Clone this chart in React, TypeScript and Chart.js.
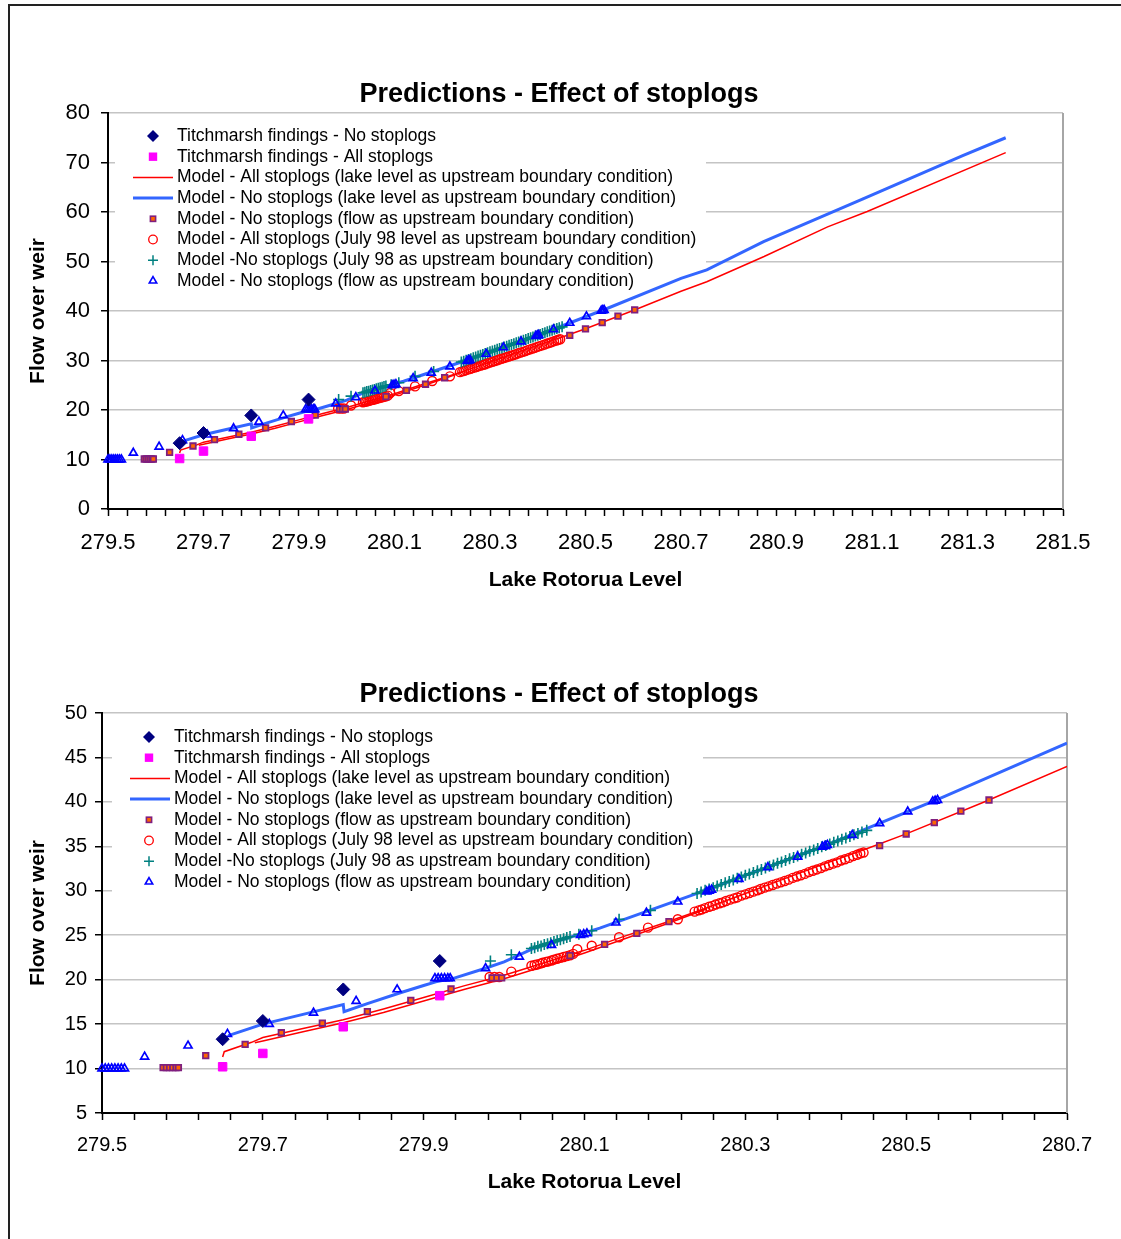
import React, { useEffect, useRef } from "react";
import { Chart, registerables } from "chart.js";

Chart.register(...registerables);

const FONT = "'Liberation Sans', Arial, Helvetica, sans-serif";
Chart.defaults.font.family = FONT;
Chart.defaults.color = "#000";

// ---------- text ----------
const chartTitle = "Predictions - Effect of stoplogs";
const xAxisTitle = "Lake Rotorua Level";
const yAxisTitle = "Flow over weir";
const seriesLabels = [
  "Titchmarsh findings - No stoplogs",
  "Titchmarsh findings - All stoplogs",
  "Model - All stoplogs (lake level as upstream boundary condition)",
  "Model - No stoplogs (lake level as upstream boundary condition)",
  "Model - No stoplogs (flow as upstream boundary condition)",
  "Model - All stoplogs (July 98 level as upstream boundary condition)",
  "Model -No stoplogs (July 98 as upstream boundary condition)",
  "Model - No stoplogs (flow as upstream boundary condition)",
];

// ---------- axis ticks ----------
const topYTicks = [0, 10, 20, 30, 40, 50, 60, 70, 80];
const bottomYTicks = [5, 10, 15, 20, 25, 30, 35, 40, 45, 50];
const topXRange = [279.5, 281.5];
const bottomXRange = [279.5, 280.7];
const xMinorStep = 0.04;
const xLabelStep = 0.2;

// ---------- data ----------
// Titchmarsh findings - No stoplogs
const titchNoX = [279.65, 279.7, 279.8, 279.92];
const titchNoY = [13.3, 15.35, 18.9, 22.1];
// Titchmarsh findings - All stoplogs
const titchAllX = [279.65, 279.7, 279.8, 279.92];
const titchAllY = [10.2, 11.7, 14.7, 18.2];

// Model - All stoplogs (lake level) : red line (two close passes)
const redLineAX = [279.65, 279.652, 279.686, 279.7, 279.75, 279.8, 279.85, 279.9, 279.95, 280.0, 280.05, 280.1, 280.15, 280.2, 280.25, 280.3, 280.35, 280.4, 280.45, 280.5, 280.6, 280.7, 280.754, 280.874, 281.007, 281.09, 281.38];
const redLineAY = [11.3, 11.9, 12.95, 13.5, 14.5, 15.5, 16.7, 18.0, 19.3, 20.5, 21.9, 23.3, 24.9, 26.4, 28.0, 29.7, 31.4, 33.1, 34.7, 36.4, 40.1, 44.0, 45.9, 51.0, 57.0, 60.1, 72.0];
const redLineBX = [279.69, 279.7, 279.75, 279.8, 279.85, 279.9, 279.95, 280.0, 280.05, 280.1, 280.15, 280.2, 280.25];
const redLineBY = [12.9, 13.1, 14.15, 15.15, 16.3, 17.6, 18.9, 20.1, 21.5, 23.0, 24.6, 26.2, 27.9];

// Model - No stoplogs (lake level) : blue line
const blueLineX = [279.657, 279.7, 279.75, 279.8, 279.801, 279.83, 279.87, 279.9, 279.915, 279.937, 279.974, 280.0, 280.036, 280.119, 280.24, 280.4, 280.54, 280.7, 280.754, 280.873, 281.08, 281.29, 281.38];
const blueLineY = [13.7, 15.0, 16.1, 17.2, 16.4, 17.3, 18.5, 19.35, 19.75, 20.15, 21.2, 22.0, 23.5, 25.8, 29.7, 35.1, 40.3, 46.6, 48.3, 54.0, 62.6, 71.4, 75.0];

// Model - No stoplogs (flow as upstream) : purple/orange squares
const flowSqX = [279.576, 279.58, 279.584, 279.588, 279.592, 279.595, 279.629, 279.678, 279.723, 279.774, 279.83, 279.884, 279.934, 279.985, 279.991, 279.997, 280.082, 280.125, 280.165, 280.205, 280.467, 280.5, 280.535, 280.568, 280.603];
const flowSqY = [10.1, 10.1, 10.1, 10.1, 10.1, 10.1, 11.45, 12.73, 14.03, 15.1, 16.4, 17.68, 18.95, 20.2, 20.2, 20.2, 22.7, 23.98, 25.2, 26.52, 35.07, 36.39, 37.66, 38.97, 40.21];

// Model - All stoplogs (July 98 level) : red circles
const julyAllX = [279.982, 279.988, 279.994, 280.009, 280.034, 280.038, 280.041, 280.045, 280.048, 280.052, 280.055, 280.059, 280.062, 280.066, 280.07, 280.074, 280.078, 280.082, 280.086, 280.091, 280.109, 280.143, 280.179, 280.216, 280.237, 280.242, 280.246, 280.25, 280.255, 280.259, 280.263, 280.268, 280.272, 280.276, 280.281, 280.286, 280.29, 280.295, 280.3, 280.305, 280.31, 280.315, 280.319, 280.324, 280.329, 280.334, 280.339, 280.344, 280.349, 280.354, 280.359, 280.364, 280.369, 280.374, 280.379, 280.384, 280.389, 280.394, 280.399, 280.404, 280.409, 280.414, 280.419, 280.424, 280.429, 280.434, 280.439, 280.443, 280.447];
const julyAllY = [20.3, 20.3, 20.3, 20.9, 21.57, 21.65, 21.7, 21.8, 21.9, 22.0, 22.05, 22.15, 22.25, 22.35, 22.45, 22.55, 22.65, 22.75, 22.9, 23.42, 23.82, 24.77, 25.85, 26.8, 27.65, 27.8, 27.9, 28.05, 28.2, 28.3, 28.45, 28.6, 28.7, 28.85, 29.0, 29.15, 29.25, 29.45, 29.6, 29.75, 29.9, 30.05, 30.2, 30.35, 30.5, 30.65, 30.8, 30.95, 31.1, 31.25, 31.45, 31.6, 31.75, 31.9, 32.1, 32.25, 32.4, 32.55, 32.75, 32.9, 33.05, 33.2, 33.4, 33.55, 33.7, 33.9, 34.05, 34.2, 34.3];

// Model - No stoplogs (July 98) : teal crosses
const julyNoX = [279.983, 280.009, 280.034, 280.038, 280.042, 280.046, 280.05, 280.054, 280.058, 280.062, 280.066, 280.07, 280.074, 280.078, 280.082, 280.093, 280.109, 280.143, 280.182, 280.24, 280.245, 280.25, 280.255, 280.26, 280.265, 280.27, 280.275, 280.28, 280.285, 280.29, 280.295, 280.3, 280.305, 280.31, 280.315, 280.32, 280.325, 280.33, 280.335, 280.34, 280.345, 280.35, 280.355, 280.36, 280.365, 280.37, 280.375, 280.38, 280.385, 280.39, 280.395, 280.4, 280.405, 280.41, 280.415, 280.42, 280.425, 280.43, 280.435, 280.44, 280.445, 280.451];
const julyNoY = [22.1, 22.8, 23.5, 23.6, 23.75, 23.8, 23.95, 24.05, 24.15, 24.3, 24.4, 24.5, 24.6, 24.75, 24.85, 25.1, 25.5, 26.8, 27.8, 29.7, 29.85, 30.05, 30.2, 30.35, 30.55, 30.7, 30.9, 31.05, 31.2, 31.4, 31.55, 31.75, 31.9, 32.05, 32.25, 32.4, 32.55, 32.75, 32.9, 33.1, 33.25, 33.4, 33.6, 33.75, 33.9, 34.1, 34.25, 34.45, 34.6, 34.75, 34.95, 35.1, 35.25, 35.45, 35.6, 35.8, 35.95, 36.1, 36.3, 36.45, 36.6, 36.8];

// Model - No stoplogs (flow as upstream) : blue triangles
const flowTriX = [279.5, 279.504, 279.508, 279.512, 279.516, 279.52, 279.524, 279.528, 279.553, 279.607, 279.656, 279.708, 279.763, 279.816, 279.867, 279.914, 279.918, 279.922, 279.926, 279.93, 279.933, 279.977, 280.019, 280.059, 280.095, 280.099, 280.103, 280.139, 280.177, 280.216, 280.252, 280.255, 280.258, 280.292, 280.328, 280.365, 280.396, 280.399, 280.402, 280.433, 280.467, 280.502, 280.533, 280.536, 280.539];
const flowTriY = [10, 10, 10, 10, 10, 10, 10, 10, 11.33, 12.57, 13.89, 15.01, 16.28, 17.6, 18.9, 20.15, 20.15, 20.15, 20.15, 20.15, 20.15, 21.28, 22.58, 23.9, 25.0, 25.1, 25.2, 26.41, 27.53, 28.77, 29.9, 30.0, 30.1, 31.32, 32.64, 33.83, 34.95, 35.04, 35.15, 36.27, 37.59, 38.9, 40.05, 40.13, 40.2];

// ---------- colours ----------
const NAVY = "#000080";
const MAGENTA = "#FF00FF";
const RED = "#FF0000";
const BLUE_LINE = "#3366FF";
const PURPLE = "#7F1F7F";
const ORANGE = "#FF6600";
const TEAL = "#008080";
const BLUE = "#0000FF";

const pts = (xs: number[], ys: number[]) => xs.map((x, i) => ({ x, y: ys[i] }));

const legendKinds = ["diamond", "magenta", "redLine", "blueLine", "flowSq", "circle", "cross", "triangle"];

function drawSymbol(ctx: CanvasRenderingContext2D, kind: string, mx: number, lx1: number, lx2: number, y: number) {
  ctx.save();
  ctx.beginPath();
  if (kind === "diamond") {
    const r = 6;
    ctx.moveTo(mx - r, y); ctx.lineTo(mx, y - r); ctx.lineTo(mx + r, y); ctx.lineTo(mx, y + r); ctx.closePath();
    ctx.fillStyle = NAVY; ctx.fill();
  } else if (kind === "magenta") {
    const s = 4.2;
    ctx.fillStyle = MAGENTA; ctx.fillRect(mx - s, y - s, 2 * s, 2 * s);
  } else if (kind === "redLine") {
    ctx.strokeStyle = RED; ctx.lineWidth = 1.5; ctx.moveTo(lx1, y); ctx.lineTo(lx2, y); ctx.stroke();
  } else if (kind === "blueLine") {
    ctx.strokeStyle = BLUE_LINE; ctx.lineWidth = 3; ctx.moveTo(lx1, y); ctx.lineTo(lx2, y); ctx.stroke();
  } else if (kind === "flowSq") {
    const s = 2.6;
    ctx.fillStyle = ORANGE; ctx.fillRect(mx - s, y - s, 2 * s, 2 * s);
    ctx.strokeStyle = PURPLE; ctx.lineWidth = 1.6; ctx.strokeRect(mx - s, y - s, 2 * s, 2 * s);
  } else if (kind === "circle") {
    ctx.arc(mx, y, 4.3, 0, Math.PI * 2);
    ctx.strokeStyle = RED; ctx.lineWidth = 1.3; ctx.stroke();
  } else if (kind === "cross") {
    const r = 5;
    ctx.moveTo(mx - r, y); ctx.lineTo(mx + r, y); ctx.moveTo(mx, y - r); ctx.lineTo(mx, y + r);
    ctx.strokeStyle = TEAL; ctx.lineWidth = 1.5; ctx.stroke();
  } else if (kind === "triangle") {
    const r = 4.3;
    ctx.moveTo(mx, y - r);
    ctx.lineTo(mx + r * Math.sin((2 * Math.PI) / 3), y - r * Math.cos((2 * Math.PI) / 3));
    ctx.lineTo(mx - r * Math.sin((2 * Math.PI) / 3), y - r * Math.cos((2 * Math.PI) / 3));
    ctx.closePath();
    ctx.strokeStyle = BLUE; ctx.lineWidth = 1.6; ctx.stroke();
  }
  ctx.restore();
}

const decorPlugin = {
  id: "decor",
  beforeDatasetsDraw(chart: any, _args: any, opts: any) {
    const ctx: CanvasRenderingContext2D = chart.ctx;
    const a = chart.chartArea;
    ctx.save();
    ctx.strokeStyle = "#a6a6a6";
    ctx.lineWidth = 2;
    ctx.beginPath();
    ctx.moveTo(a.right, a.top);
    ctx.lineTo(a.right, a.bottom);
    ctx.stroke();
    const L = opts.legend;
    ctx.fillStyle = "#fff";
    ctx.fillRect(L.x1, L.y1, L.x2 - L.x1, L.y2 - L.y1);
    ctx.font = `17.5px ${FONT}`;
    ctx.textBaseline = "middle";
    ctx.textAlign = "left";
    seriesLabels.forEach((label, i) => {
      const y = L.y0 + i * L.dy;
      drawSymbol(ctx, legendKinds[i], L.mx, L.lx1, L.lx2, y);
      ctx.fillStyle = "#000";
      ctx.fillText(label, L.tx, y);
    });
    ctx.restore();
  },
  afterDraw(chart: any, _args: any, opts: any) {
    const ctx: CanvasRenderingContext2D = chart.ctx;
    ctx.save();
    ctx.font = `bold 27px ${FONT}`;
    ctx.fillStyle = "#000";
    ctx.textAlign = "center";
    ctx.textBaseline = "middle";
    ctx.fillText(chartTitle, opts.titleX, opts.titleY);
    ctx.restore();
  },
};

type PanelCfg = {
  left: number; top: number; w: number; h: number;
  xRange: number[]; yTicks: number[];
  areaLeft: number; areaRight: number; areaTop: number; areaBottom: number;
  tickFont: number; xTickPad: number; yTickPad: number;
  xTitlePad: number; yTitlePad: number;
  titleX: number; titleY: number;
  legend: any;
};

function Panel({ cfg }: { cfg: PanelCfg }) {
  const ref = useRef<HTMLCanvasElement>(null);
  useEffect(() => {
    if (!ref.current) return;
    const [xmin, xmax] = cfg.xRange;
    const n = Math.round((xmax - xmin) / xMinorStep);
    const xTickValues = Array.from({ length: n + 1 }, (_, i) => +(xmin + i * xMinorStep).toFixed(3));
    const markerBase = { showLine: false, clip: false as any };
    const chart = new Chart(ref.current, {
      type: "scatter",
      data: {
        datasets: [
          { ...markerBase, label: seriesLabels[0], data: pts(titchNoX, titchNoY), pointStyle: "rectRot", pointRadius: 6.5, pointBackgroundColor: NAVY, pointBorderColor: NAVY, pointBorderWidth: 1, backgroundColor: NAVY, borderColor: NAVY },
          { ...markerBase, label: seriesLabels[1], data: pts(titchAllX, titchAllY), pointStyle: "rect", pointRadius: 6, pointBackgroundColor: MAGENTA, pointBorderColor: MAGENTA, pointBorderWidth: 1, backgroundColor: MAGENTA, borderColor: MAGENTA },
          { ...markerBase, label: seriesLabels[7], data: pts(flowTriX, flowTriY), pointStyle: "triangle", pointRadius: 4.6, pointBackgroundColor: "rgba(0,0,0,0)", pointBorderColor: BLUE, pointBorderWidth: 1.7, backgroundColor: "rgba(0,0,0,0)", borderColor: BLUE },
          { ...markerBase, label: seriesLabels[6], data: pts(julyNoX, julyNoY), pointStyle: "cross", pointRadius: 5.5, pointBorderColor: TEAL, pointBorderWidth: 1.6, borderColor: TEAL, backgroundColor: TEAL },
          { ...markerBase, label: seriesLabels[4], data: pts(flowSqX, flowSqY), pointStyle: "rect", pointRadius: 3.9, pointBackgroundColor: ORANGE, pointBorderColor: PURPLE, pointBorderWidth: 1.8, backgroundColor: ORANGE, borderColor: PURPLE },
          { ...markerBase, label: seriesLabels[5], data: pts(julyAllX, julyAllY), pointStyle: "circle", pointRadius: 4.5, pointBackgroundColor: "rgba(0,0,0,0)", pointBorderColor: RED, pointBorderWidth: 1.4, backgroundColor: "rgba(0,0,0,0)", borderColor: RED },
          { label: seriesLabels[3], data: pts(blueLineX, blueLineY), showLine: true, borderColor: BLUE_LINE, borderWidth: 3, pointRadius: 0, pointHoverRadius: 0, tension: 0, fill: false },
          { label: seriesLabels[2], data: pts(redLineAX, redLineAY), showLine: true, borderColor: RED, borderWidth: 1.5, pointRadius: 0, pointHoverRadius: 0, tension: 0, fill: false },
          { label: seriesLabels[2], data: pts(redLineBX, redLineBY), showLine: true, borderColor: RED, borderWidth: 1.5, pointRadius: 0, pointHoverRadius: 0, tension: 0, fill: false },
        ] as any,
      },
      options: {
        responsive: false,
        animation: false,
        devicePixelRatio: 1,
        events: [],
        layout: {
          padding: { left: 0, top: cfg.areaTop, right: cfg.w - cfg.areaRight, bottom: 0 },
        },
        plugins: {
          legend: { display: false },
          tooltip: { enabled: false },
          title: { display: false },
          decor: { legend: cfg.legend, titleX: cfg.titleX, titleY: cfg.titleY },
        } as any,
        scales: {
          x: {
            type: "linear",
            min: xmin,
            max: xmax,
            afterBuildTicks: (s: any) => { s.ticks = xTickValues.map((v) => ({ value: v })); },
            afterFit: (s: any) => { s.height = cfg.h - cfg.areaBottom; },
            ticks: {
              autoSkip: false,
              maxRotation: 0,
              minRotation: 0,
              color: "#000",
              font: { size: cfg.tickFont },
              padding: cfg.xTickPad,
              callback: (v: any) => {
                const k = (Number(v) - xmin) / xLabelStep;
                return Math.abs(k - Math.round(k)) < 1e-6 ? Number(v).toFixed(1) : "";
              },
            },
            grid: { drawOnChartArea: false, drawTicks: true, tickLength: 7, tickColor: "#000", tickWidth: 1.5 },
            border: { display: true, color: "#000", width: 2 },
            title: { display: true, text: xAxisTitle, color: "#000", font: { size: 21, weight: "bold" }, padding: { top: 0, bottom: cfg.xTitlePad } },
          },
          y: {
            type: "linear",
            min: cfg.yTicks[0],
            max: cfg.yTicks[cfg.yTicks.length - 1],
            afterBuildTicks: (s: any) => { s.ticks = cfg.yTicks.map((v) => ({ value: v })); },
            afterFit: (s: any) => { s.width = cfg.areaLeft; },
            ticks: { color: "#000", font: { size: cfg.tickFont }, padding: cfg.yTickPad },
            grid: { color: "#c4c4c4", lineWidth: 1.5, drawTicks: true, tickLength: 7, tickColor: "#000", tickWidth: 1.5 },
            border: { display: true, color: "#000", width: 2 },
            title: { display: true, text: yAxisTitle, color: "#000", font: { size: 21, weight: "bold" }, padding: { top: cfg.yTitlePad, bottom: 0 } },
          },
        },
      } as any,
      plugins: [decorPlugin as any],
    });
    return () => chart.destroy();
  }, []);
  return (
    <canvas
      ref={ref}
      width={cfg.w}
      height={cfg.h}
      style={{ position: "absolute", left: cfg.left, top: cfg.top, width: cfg.w, height: cfg.h }}
    />
  );
}

const topCfg: PanelCfg = {
  left: 10, top: 60, w: 1110, h: 545,
  xRange: topXRange, yTicks: topYTicks,
  areaLeft: 98, areaRight: 1053, areaTop: 53, areaBottom: 449,
  tickFont: 22, xTickPad: 14, yTickPad: 11,
  xTitlePad: 12.4, yTitlePad: 15.4,
  titleX: 549, titleY: 34.5,
  legend: { x1: 105, y1: 63, x2: 696, y2: 232, mx: 143, lx1: 123, lx2: 163, tx: 167, y0: 76, dy: 20.7 },
};

const bottomCfg: PanelCfg = {
  left: 10, top: 655, w: 1110, h: 545,
  xRange: bottomXRange, yTicks: bottomYTicks,
  areaLeft: 92, areaRight: 1057, areaTop: 58, areaBottom: 458,
  tickFont: 20, xTickPad: 13, yTickPad: 8,
  xTitlePad: 5, yTitlePad: 15.4,
  titleX: 549, titleY: 40,
  legend: { x1: 102, y1: 68, x2: 693, y2: 241, mx: 139, lx1: 120, lx2: 160, tx: 164, y0: 82, dy: 20.7 },
};

export default function App() {
  return (
    <div style={{ position: "absolute", left: 0, top: 0, width: 1121, height: 1239, overflow: "hidden", background: "#fff" }}>
      <div
        style={{
          position: "absolute", left: 8, top: 4, width: 1125, height: 1250,
          borderTop: "2px solid #222", borderLeft: "2px solid #222", boxSizing: "border-box",
        }}
      />
      <Panel cfg={topCfg} />
      <Panel cfg={bottomCfg} />
    </div>
  );
}
